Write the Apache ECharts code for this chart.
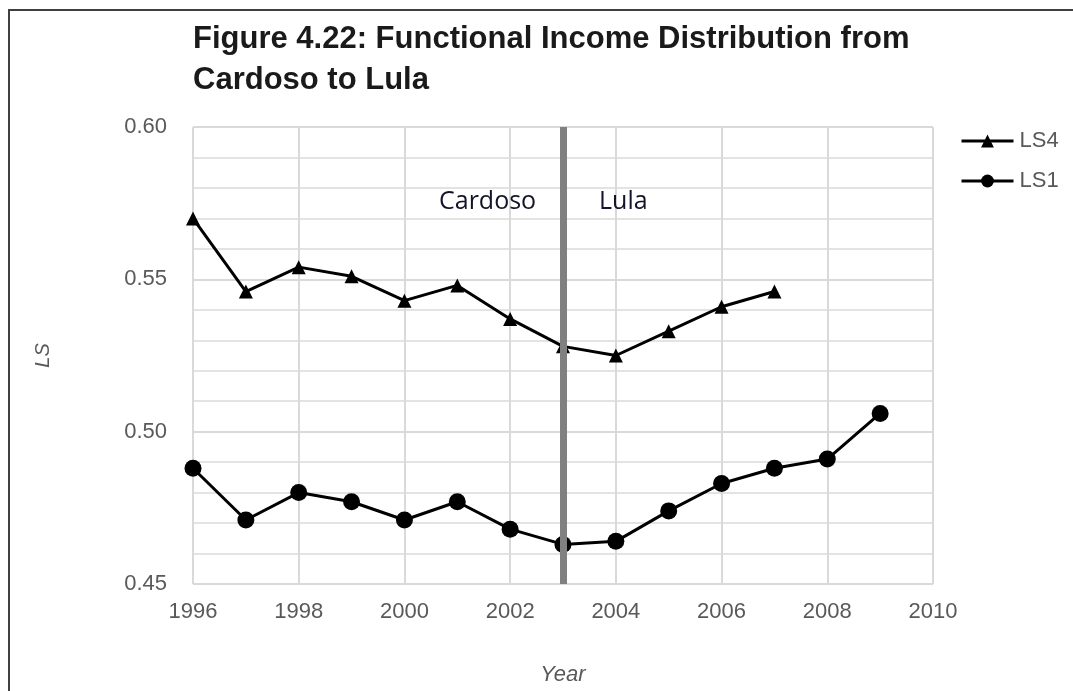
<!DOCTYPE html>
<html>
<head>
<meta charset="utf-8">
<script src="https://cdn.jsdelivr.net/npm/echarts@6/dist/echarts.min.js"></script>
<style>
  html, body { margin: 0; padding: 0; background: #fff; }
  #myChart { width: 1073px; height: 691px; }
</style>
</head>
<body>
<div id="myChart"></div>
<script>
  // data
  var years = [1996, 1997, 1998, 1999, 2000, 2001, 2002, 2003, 2004, 2005, 2006, 2007, 2008, 2009];
  var ls4 = [0.570, 0.546, 0.554, 0.551, 0.543, 0.548, 0.537, 0.528, 0.525, 0.533, 0.541, 0.546];
  var ls1 = [0.488, 0.471, 0.480, 0.477, 0.471, 0.477, 0.468, 0.463, 0.464, 0.474, 0.483, 0.488, 0.491, 0.506];
  var changeYear = 2003;
  var yTicks = [0.45, 0.50, 0.55, 0.60];

  function pairs(vals) {
    return vals.map(function (v, i) { return [years[i], v]; });
  }

  var myChart = echarts.init(document.getElementById('myChart'));
  myChart.setOption({
    animation: false,
    title: {
      text: 'Figure 4.22: Functional Income Distribution from\nCardoso to Lula',
      left: 188,
      top: 14,
      textStyle: {
        fontFamily: 'Liberation Sans',
        fontWeight: 'bold',
        fontSize: 31,
        lineHeight: 41,
        color: '#1a1a1a'
      }
    },
    legend: {
      orient: 'vertical',
      left: 955,
      top: 125,
      itemWidth: 52,
      itemHeight: 16,
      itemGap: 18,
      data: ['LS4', 'LS1'],
      lineStyle: { width: 3 },
      textStyle: { fontFamily: 'Liberation Sans', fontSize: 22, color: '#595959', padding: [0, 0, 0, 1] }
    },
    grid: { left: 193, right: 140, top: 127, bottom: 107, outerBoundsMode: 'none' },
    xAxis: {
      type: 'value',
      min: 1996,
      max: 2010,
      interval: 2,
      name: 'Year',
      nameLocation: 'middle',
      nameGap: 80,
      nameTextStyle: { fontFamily: 'Liberation Sans', fontSize: 22, fontStyle: 'italic', color: '#595959' },
      axisLine: { show: false },
      axisTick: { show: false },
      axisLabel: {
        fontFamily: 'Liberation Sans', fontSize: 22, color: '#595959', margin: 17,
        formatter: function (v) { return String(v); }
      },
      splitLine: { show: true, lineStyle: { color: '#d9d9d9', width: 2 } }
    },
    yAxis: {
      type: 'value',
      min: yTicks[0],
      max: yTicks[yTicks.length - 1],
      interval: 0.05,
      name: 'LS',
      nameLocation: 'middle',
      nameGap: 140,
      nameTextStyle: { fontFamily: 'Liberation Sans', fontSize: 20, fontStyle: 'italic', color: '#595959' },
      axisLine: { show: false },
      axisTick: { show: false },
      axisLabel: {
        fontFamily: 'Liberation Sans', fontSize: 22, color: '#595959', margin: 26,
        formatter: function (v) { return v.toFixed(2); }
      },
      splitLine: { show: true, lineStyle: { color: '#d9d9d9', width: 2 } },
      minorTick: { show: false, splitNumber: 5 },
      minorSplitLine: { show: true, lineStyle: { color: '#e3e3e3', width: 2 } }
    },
    graphic: [
      { type: 'rect', z: 100, shape: { x: 9, y: 10, width: 1100, height: 700 }, style: { fill: 'none', stroke: '#404040', lineWidth: 2 } },
      { type: 'text', z: 100, x: 439, y: 189, style: { text: 'Cardoso', font: '25px "Open Sans"', fill: '#141428' } },
      { type: 'text', z: 100, x: 599, y: 189, style: { text: 'Lula', font: '25px "Open Sans"', fill: '#141428' } }
    ],
    series: [
      {
        name: 'LS4',
        type: 'line',
        data: pairs(ls4),
        symbol: 'triangle',
        symbolSize: 14,
        itemStyle: { color: '#000' },
        lineStyle: { color: '#000', width: 3 },
        z: 3,
        markLine: {
          silent: true,
          symbol: 'none',
          label: { show: false },
          lineStyle: { color: '#808080', width: 7, type: 'solid' },
          data: [{ xAxis: changeYear }]
        }
      },
      {
        name: 'LS1',
        type: 'line',
        data: pairs(ls1),
        symbol: 'circle',
        symbolSize: 17,
        itemStyle: { color: '#000' },
        lineStyle: { color: '#000', width: 3 },
        z: 4
      }
    ]
  });
</script>
</body>
</html>
